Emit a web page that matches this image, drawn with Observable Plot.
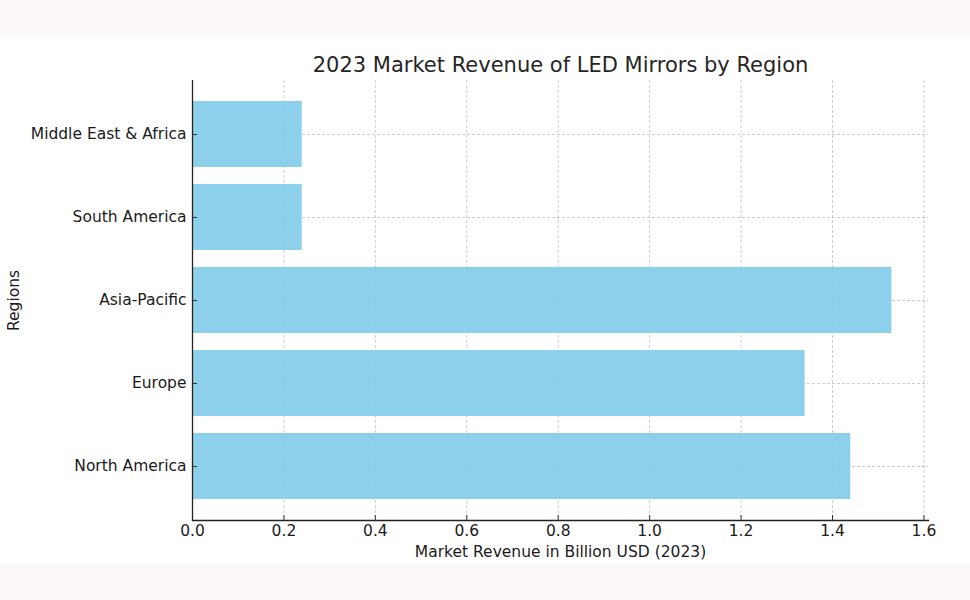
<!DOCTYPE html>
<html>
<head>
<meta charset="utf-8">
<script src="https://cdn.jsdelivr.net/npm/d3@7"></script>
<script src="https://cdn.jsdelivr.net/npm/@observablehq/plot@0.6"></script>
<style>
  html, body { margin: 0; padding: 0; background: #fcf8f8; width: 970px; height: 600px; overflow: hidden; }
  #chart { position: absolute; left: 0; top: 35px; width: 970px; height: 528px; background: #ffffff; }
  svg { font-family: "DejaVu Sans", sans-serif; }
</style>
</head>
<body>
<div id="chart"></div>
<script>
const regions = ["North America", "Europe", "Asia-Pacific", "South America", "Middle East & Africa"];
const revenue = [1.44, 1.34, 1.53, 0.24, 0.24];
const xTicks = [0, 0.2, 0.4, 0.6, 0.8, 1.0, 1.2, 1.4, 1.6];
const title = "2023 Market Revenue of LED Mirrors by Region";
const xLabel = "Market Revenue in Billion USD (2023)";
const yLabel = "Regions";

const data = regions.map((r, i) => ({region: r, value: revenue[i]}));
const yDomain = regions.slice().reverse();

const W = 970, H = 528;
const mTop = 45, mBottom = 43, mLeft = 192, mRight = 42;
const plotH = H - mTop - mBottom;

const chart = Plot.plot({
  width: W,
  height: H,
  marginTop: mTop,
  marginBottom: mBottom,
  marginLeft: mLeft,
  marginRight: mRight,
  style: {fontFamily: "DejaVu Sans, sans-serif", fontSize: "15.5px", color: "#1a1a1a", background: "white"},
  x: {domain: [0, 1.61], ticks: xTicks, tickFormat: d3.format(".1f")},
  y: {domain: yDomain, paddingInner: 0.2, paddingOuter: 0.24},
  marks: [
    Plot.ruleX(xTicks, {x: d => d, stroke: "#b0b0b0", strokeOpacity: 0.8, strokeDasharray: "3,2", strokeWidth: 0.8}),
    Plot.ruleY(regions, {y: d => d, stroke: "#b0b0b0", strokeOpacity: 0.8, strokeDasharray: "3,2", strokeWidth: 0.8}),
    Plot.barX(data, {x: "value", y: "region", fill: "#87ceeb", fillOpacity: 0.95}),
    Plot.axisX({ticks: xTicks, tickFormat: d3.format(".1f"), tickSize: 0, tickPadding: 4, fontSize: 15.5, label: xLabel, labelAnchor: "center", labelArrow: "none", labelOffset: 36}),
    Plot.axisY({tickSize: 0, tickPadding: 6, fontSize: 15.5, label: yLabel, labelAnchor: "center", labelArrow: "none", labelOffset: 185}),
    Plot.tickX(xTicks, {x: d => d, stroke: "#333", strokeWidth: 1, insetTop: plotH - 5}),
    Plot.tickY(regions, {y: d => d, stroke: "#333", strokeWidth: 1, insetRight: W - mLeft - mRight - 5}),
    Plot.ruleX([0], {stroke: "#222", strokeWidth: 1.3}),
    Plot.frame({anchor: "bottom", stroke: "#222", strokeWidth: 1.3}),
    Plot.text([title], {text: d => d, frameAnchor: "top", dy: -15, fontSize: 21, fill: "#262626", lineAnchor: "middle"})
  ]
});
document.getElementById("chart").appendChild(chart);
</script>
</body>
</html>
